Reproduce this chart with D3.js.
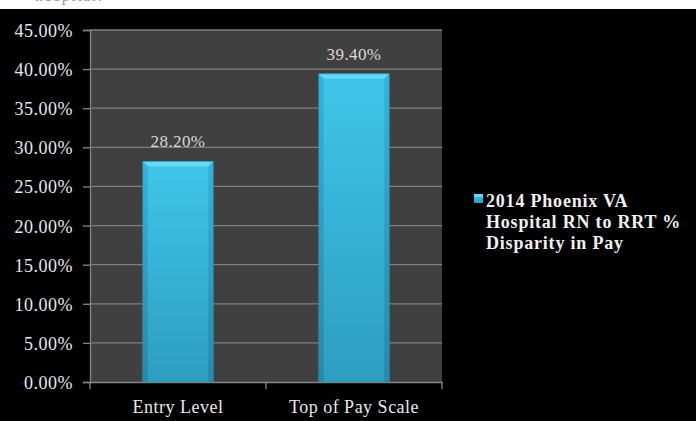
<!DOCTYPE html>
<html>
<head>
<meta charset="utf-8">
<script src="https://cdn.jsdelivr.net/npm/d3@7"></script>
<style>
  html, body { margin: 0; padding: 0; background: #000; }
  svg { display: block; }
</style>
</head>
<body>
<script>
// Chart data
const categories = ["Entry Level", "Top of Pay Scale"];
const disparity = [0.282, 0.394];
const seriesName = ["2014 Phoenix VA", "Hospital RN to RRT %", "Disparity in Pay"];
const yTicks = [0, 0.05, 0.10, 0.15, 0.20, 0.25, 0.30, 0.35, 0.40, 0.45];

const W = 696, H = 421;
const plot = { left: 90, right: 442, top: 30, bottom: 382 };
const serif = "'Liberation Serif', 'Times New Roman', serif";

const svg = d3.select("body").append("svg")
  .attr("width", W).attr("height", H);

// gradients
const defs = svg.append("defs");
const g1 = defs.append("linearGradient").attr("id", "barFill")
  .attr("x1", 0).attr("y1", 0).attr("x2", 0).attr("y2", 1);
g1.append("stop").attr("offset", "0%").attr("stop-color", "#3ec6ea");
g1.append("stop").attr("offset", "100%").attr("stop-color", "#2d9dc0");
const g2 = defs.append("linearGradient").attr("id", "sideFill")
  .attr("x1", 0).attr("y1", 0).attr("x2", 0).attr("y2", 1);
g2.append("stop").attr("offset", "0%").attr("stop-color", "#35b4da");
g2.append("stop").attr("offset", "100%").attr("stop-color", "#2789aa");

// page strip with the clipped line of text above the chart
svg.append("rect").attr("x", 0).attr("y", 0).attr("width", W).attr("height", 9).attr("fill", "#ffffff");
svg.append("text").attr("x", 35).attr("y", 0.5)
  .attr("font-family", serif).attr("font-size", 16).attr("letter-spacing", 1.5)
  .attr("fill", "#9a9a9a").text("hospital.");
svg.append("rect").attr("x", 0).attr("y", 9).attr("width", W).attr("height", H - 9).attr("fill", "#000000");

// scales
const x = d3.scaleBand().domain(categories).range([plot.left, plot.right]).padding(0);
const y = d3.scaleLinear().domain([0, 0.45]).range([plot.bottom, plot.top]);

// plot area
svg.append("rect")
  .attr("x", plot.left).attr("y", plot.top)
  .attr("width", plot.right - plot.left).attr("height", plot.bottom - plot.top)
  .attr("fill", "#404040");

// gridlines
svg.append("g").selectAll("line").data(yTicks.filter(d => d > 0)).join("line")
  .attr("x1", plot.left).attr("x2", plot.right)
  .attr("y1", d => y(d)).attr("y2", d => y(d))
  .attr("stroke", "#7e7e7e").attr("stroke-width", 1.3);

// y axis
const yAxis = svg.append("g")
  .attr("transform", `translate(${plot.left},0)`)
  .call(d3.axisLeft(y).tickValues(yTicks).tickFormat(d3.format(".2%")).tickSize(7).tickPadding(10));
yAxis.select(".domain").attr("stroke", "#868686").attr("stroke-width", 1.3);
yAxis.selectAll(".tick line").attr("stroke", "#868686").attr("stroke-width", 1.3);
yAxis.selectAll(".tick text")
  .attr("font-family", serif).attr("font-size", 18).attr("letter-spacing", 0.5)
  .attr("fill", "#e8e8e8").attr("dy", "0.36em");

// x axis
const xAxis = svg.append("g")
  .attr("transform", `translate(0,${plot.bottom})`)
  .call(d3.axisBottom(x).tickSize(0).tickPadding(18.5));
xAxis.select(".domain").attr("stroke", "#868686").attr("stroke-width", 1.3);
xAxis.selectAll(".tick text")
  .attr("font-family", serif).attr("font-size", 18).attr("letter-spacing", 0.5)
  .attr("fill", "#e8e8e8");
// category boundary ticks
const bounds = [plot.left, ...categories.slice(1).map(c => x(c)), plot.right];
xAxis.selectAll(".bound").data(bounds).join("line").attr("class", "bound")
  .attr("x1", d => d).attr("x2", d => d).attr("y1", 0).attr("y2", 7)
  .attr("stroke", "#868686").attr("stroke-width", 1.3);

// bars with bevelled edges
const bw = x.bandwidth() * 0.4;
const bev = 5;
const bars = svg.append("g").selectAll("g").data(categories.map((c, i) => ({ c, v: disparity[i] }))).join("g");
bars.each(function(d) {
  const g = d3.select(this);
  const x0 = x(d.c) + (x.bandwidth() - bw) / 2, x1 = x0 + bw;
  const y0 = y(d.v), y1 = y(0);
  g.append("rect").attr("x", x0).attr("y", y0).attr("width", bw).attr("height", y1 - y0)
    .attr("fill", "url(#barFill)");
  g.append("polygon")
    .attr("points", [[x0, y0], [x0 + bev, y0 + bev], [x0 + bev, y1], [x0, y1]].join(" "))
    .attr("fill", "url(#sideFill)");
  g.append("polygon")
    .attr("points", [[x1, y0], [x1 - bev, y0 + bev], [x1 - bev, y1], [x1, y1]].join(" "))
    .attr("fill", "url(#sideFill)");
  g.append("polygon")
    .attr("points", [[x0, y0], [x1, y0], [x1 - bev, y0 + bev], [x0 + bev, y0 + bev]].join(" "))
    .attr("fill", "#62d9f6");
  g.append("rect").attr("x", x0).attr("y", y0).attr("width", bw).attr("height", y1 - y0)
    .attr("fill", "none").attr("stroke", "#2a8fb0").attr("stroke-width", 0.8).attr("stroke-opacity", 0.7);
  g.append("text")
    .attr("x", x0 + bw / 2).attr("y", y0 - 14)
    .attr("text-anchor", "middle")
    .attr("font-family", serif).attr("font-size", 17).attr("letter-spacing", 0.4)
    .attr("fill", "#d9d9d9")
    .text(d3.format(".2%")(d.v));
});

// legend
const lg = svg.append("g").attr("transform", "translate(474,194)");
lg.append("rect").attr("x", 0).attr("y", 0).attr("width", 9).attr("height", 9).attr("fill", "url(#barFill)");
lg.append("rect").attr("x", 0).attr("y", 0).attr("width", 9).attr("height", 3).attr("fill", "#62d9f6");
lg.append("text")
  .attr("font-family", serif).attr("font-size", 18).attr("font-weight", "bold")
  .attr("letter-spacing", 0.8).attr("fill", "#f0f0f0")
  .selectAll("tspan").data(seriesName).join("tspan")
  .attr("x", 12).attr("y", (d, i) => 12.7 + i * 21)
  .text(d => d);
</script>
</body>
</html>
